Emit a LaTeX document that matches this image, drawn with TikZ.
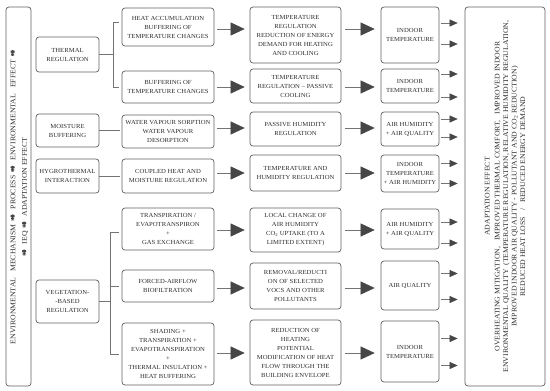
\documentclass[tikz,border=0pt]{standalone}
\usepackage{fontspec}
\setmainfont{Liberation Serif}[FakeStretch=1.08]
\usepackage{tikz}
\usetikzlibrary{arrows.meta, positioning, calc}
\definecolor{boxgray}{RGB}{95,95,95}
\definecolor{textgray}{RGB}{45,45,45}
\definecolor{arrowgray}{RGB}{70,70,70}
\definecolor{linegray}{RGB}{115,115,115}
\newcommand{\uparr}{\tikz[baseline=-2.7pt, x=1pt, y=1pt]\fill[arrowgray] (0,-1.5) rectangle (3.4,1.5) (3,-3.6) -- (7.2,0) -- (3,3.6) -- cycle;}

\begin{document}
\begin{tikzpicture}[
    x=1pt, y=-1pt,
    box/.style={rectangle, rounded corners=3pt, draw=boxgray, line width=0.7pt, align=center, text=textgray, inner sep=1pt, font=\fontsize{6.2}{9}\selectfont},
    catbox/.style={box, minimum width=63pt},
    mechbox/.style={box, minimum width=92pt},
    procbox/.style={box, minimum width=91pt},
    ieqbox/.style={box, minimum width=58pt},
    sidebox/.style={box, rotate=90, minimum width=379pt},
    link/.style={draw=linegray, line width=0.6pt},
    bigarrow/.style={link, -{Triangle[length=14pt, width=13pt, color=arrowgray]}, shorten <=3pt, shorten >=5pt},
    smallarrow/.style={link, -{Triangle[length=8pt, width=7pt, color=arrowgray]}, shorten <=2pt, shorten >=7pt}
]
\useasboundingbox (0,0) rectangle (550,391);

% side panels
\node[sidebox, minimum height=25pt, font=\fontsize{7.2}{11.5}\selectfont] (flow) at (18.5,196.5) {ENVIRONMENTAL\ \ \ MECHANISM\ \ \uparr\ \ PROCESS\ \ \uparr\ \ ENVIRONMENTAL\ \ \ EFFECT\ \ \uparr\\ \uparr\ \ IEQ\ \ \uparr\ \ ADAPTATION EFFECT};
\node[sidebox, minimum height=80pt, font=\fontsize{7.2}{8.5}\selectfont] (adapt) at (505,196.5) {ADAPTATION EFFECT\\[1.5pt]
    OVERHEATING MITIGATION,\ \ \ IMPROVED THERMAL COMFORT,\ \ \ IMPROVED INDOOR\\
    ENVIRONMENTAL QUALITY\ \ (TEMPERATURE REGULATION, RELATIVE HUMIDITY REGULATION,\\
    IMPROVED INDOOR AIR QUALITY - POLLUTANT AND CO\textsubscript{2} REDUCTION)\\
    REDUCED HEAT LOSS\ \ \ /\ \ \ REDUCED ENERGY DEMAND};

% categories
\node[catbox, minimum height=35pt] (thermal) at (67.5,54.5) {THERMAL\\REGULATION};
\node[catbox, minimum height=33pt] (moisture) at (67.5,130.5) {MOISTURE\\BUFFERING};
\node[catbox, minimum height=34pt] (hygro) at (67.5,176) {HYGROTHERMAL\\INTERACTION};
\node[catbox, minimum height=43pt] (veg) at (67.5,301.5) {VEGETATION-\\-BASED\\REGULATION};

% mechanisms
\node[mechbox, minimum height=38pt] (m1) at (168,27) {HEAT ACCUMULATION\\BUFFERING OF\\TEMPERATURE CHANGES};
\node[mechbox, minimum height=32pt] (m2) at (168,87) {BUFFERING OF\\TEMPERATURE CHANGES};
\node[mechbox, minimum height=33pt] (m3) at (168,131.5) {WATER VAPOUR SORPTION\\WATER VAPOUR\\DESORPTION};
\node[mechbox, minimum height=34pt] (m4) at (168,176) {COUPLED HEAT AND\\MOISTURE REGULATION};
\node[mechbox, minimum height=42pt] (m5) at (168,229) {TRANSPIRATION /\\EVAPOTRANSPIRON\\+\\GAS EXCHANGE};
\node[mechbox, minimum height=32pt] (m6) at (168,286) {FORCED-AIRFLOW\\BIOFILTRATION};
\node[mechbox, minimum height=62pt] (m7) at (168,354) {SHADING +\\TRANSPIRATION +\\EVAPOTRANSPIRATION\\+\\THERMAL INSULATION +\\HEAT BUFFERING};

% processes
\node[procbox, minimum height=56pt] (p1) at (295.5,35) {TEMPERATURE\\REGULATION\\REDUCTION OF ENERGY\\DEMAND FOR HEATING\\AND COOLING};
\node[procbox, minimum height=34pt] (p2) at (295.5,86) {TEMPERATURE\\REGULATION -- PASSIVE\\COOLING};
\node[procbox, minimum height=34pt] (p3) at (295.5,129) {PASSIVE HUMIDITY\\REGULATION};
\node[procbox, minimum height=36pt] (p4) at (295.5,173) {TEMPERATURE AND\\HUMIDITY REGULATION};
\node[procbox, minimum height=44pt] (p5) at (295.5,230) {LOCAL CHANGE OF\\AIR HUMIDITY\\CO\textsubscript{2} UPTAKE (TO A\\LIMITED EXTENT)};
\node[procbox, minimum height=46pt] (p6) at (295.5,286) {REMOVAL/REDUCTI\\ON OF SELECTED\\VOCS AND OTHER\\POLLUTANTS};
\node[procbox, minimum height=65pt] (p7) at (295.5,352.5) {REDUCTION OF\\HEATING\\POTENTIAL\\MODIFICATION OF HEAT\\FLOW THROUGH THE\\BUILDING ENVELOPE};

% indoor environmental quality
\node[ieqbox, minimum height=56pt] (i1) at (410,35) {INDOOR\\TEMPERATURE};
\node[ieqbox, minimum height=34pt] (i2) at (410,86) {INDOOR\\TEMPERATURE};
\node[ieqbox, minimum height=34pt] (i3) at (410,129) {AIR HUMIDITY\\+ AIR QUALITY};
\node[ieqbox, minimum height=37pt] (i4) at (410,173.5) {INDOOR\\TEMPERATURE\\+ AIR HUMIDITY};
\node[ieqbox, minimum height=40pt] (i5) at (410,229) {AIR HUMIDITY\\+ AIR QUALITY};
\node[ieqbox, minimum height=49pt] (i6) at (410,285.5) {AIR QUALITY};
\node[ieqbox, minimum height=61pt] (i7) at (410,351.5) {INDOOR\\TEMPERATURE};

% brackets
\coordinate (tb) at ($(thermal.east)+(14,0)$);
\draw[link] (thermal.east) -- (tb);
\draw[link] ([shift={(-3,-5)}]m1.west) -| (tb) |- ([xshift=-3pt]m2.west);
\draw[link, shorten >=2pt] (moisture.east) -- (moisture.east -| m3.west);
\draw[link, shorten >=2pt] (hygro.east) -- (hygro.east -| m4.west);
\coordinate (vb) at ($(veg.east)+(11,0)$);
\draw[link] (veg.east) -- (vb);
\draw[link] ([shift={(-3,3)}]m5.west) -| (vb) |- ([xshift=-3pt]m7.west);
\draw[link] (vb |- m6.west) -- ([xshift=-3pt]m6.west);

% flow arrows
\foreach \n/\r in {1/29, 2/87, 3/128, 4/173, 5/230, 6/288, 7/353} {
    \draw[bigarrow] (m\n.east |- 0,\r) -- (p\n.west |- 0,\r);
    \draw[bigarrow, shorten <=4pt, shorten >=6pt] (p\n.east |- 0,\r) -- (i\n.west |- 0,\r);
}
\foreach \n/\d in {1/-12, 1/9, 2/-12, 2/11, 3/-10, 3/8, 4/-10, 4/10, 5/-7, 5/14, 6/-12, 6/14, 7/-13, 7/14} {
    \coordinate (s) at ($(i\n.east)+(0,\d)$);
    \draw[smallarrow] (s) -- (s -| adapt.north);
}
\end{tikzpicture}
\end{document}
